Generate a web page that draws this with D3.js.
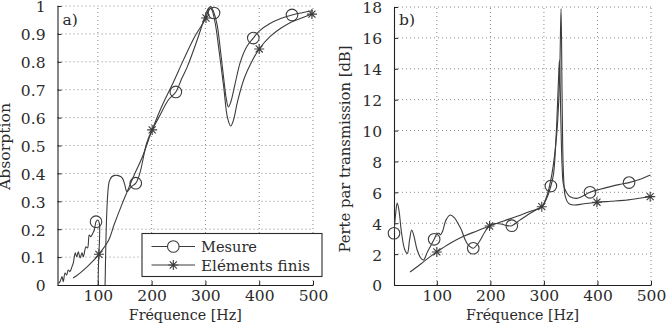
<!DOCTYPE html>
<html>
<head>
<meta charset="utf-8">
<script src="https://cdn.jsdelivr.net/npm/d3@7"></script>
<style>
  body { margin: 0; background: #fff; }
  svg { display: block; }
  text { font-family: "DejaVu Serif", serif; fill: #2b2b2b; }
</style>
</head>
<body>
<div id="chart"></div>
<script>
// ---- panel a) absorption ----
var freqMesA = [26.5, 29.7, 33.4, 35.8, 39, 42, 45, 48, 52, 54.4, 58, 60.7, 63.7, 66.9, 70.6, 73, 78, 81, 84, 87, 90.5, 93.5, 96.6, 99.8, 102.8, 104, 112.5, 113, 121, 126, 132, 138, 145, 150, 154, 162, 170.5, 178, 191, 201, 216, 231, 245, 256, 266, 285, 298, 305, 310, 316, 322, 328, 334, 339, 342.7, 347, 355, 365, 377, 389, 400, 420, 440, 461, 480, 500];
var absMesA = [0.006, 0.012, 0.03, 0.012, 0.043, 0.036, 0.054, 0.048, 0.066, 0.079, 0.115, 0.101, 0.119, 0.097, 0.115, 0.101, 0.137, 0.133, 0.179, 0.173, 0.185, 0.197, 0.227, 0.233, 0.222, -0.04, -0.04, -0.03, 0.37, 0.388, 0.393, 0.392, 0.385, 0.36, 0.335, 0.352, 0.365, 0.40, 0.51, 0.556, 0.61, 0.663, 0.692, 0.74, 0.781, 0.88, 0.955, 0.99, 0.998, 0.975, 0.93, 0.84, 0.74, 0.665, 0.638, 0.655, 0.72, 0.80, 0.855, 0.885, 0.91, 0.937, 0.955, 0.968, 0.976, 0.983];

var freqFeA = [54, 65, 80, 92, 102, 120, 130, 145, 154, 170, 182, 201, 220, 240, 259, 280, 301, 307, 311, 318, 326, 334, 341, 347, 352, 360, 372, 386, 400, 420, 440, 460, 480, 498];
var absFeA = [0.025, 0.04, 0.065, 0.088, 0.11, 0.16, 0.215, 0.29, 0.332, 0.405, 0.455, 0.556, 0.645, 0.725, 0.806, 0.89, 0.957, 0.993, 0.99, 0.94, 0.83, 0.71, 0.6, 0.57, 0.59, 0.66, 0.74, 0.8, 0.846, 0.89, 0.92, 0.943, 0.958, 0.971];

var circFreqA = [96.6, 170.5, 245, 316, 389, 461];
var circAbsA = [0.227, 0.365, 0.692, 0.975, 0.885, 0.968];
var starFreqA = [102, 201, 301, 400, 498];
var starAbsA = [0.11, 0.556, 0.957, 0.846, 0.971];

var xTicksA = [100, 200, 300, 400, 500];
var yTicksA = [0, 0.1, 0.2, 0.3, 0.4, 0.5, 0.6, 0.7, 0.8, 0.9, 1];

// ---- panel b) transmission loss ----
var freqMesB = [20, 23, 26, 29, 34, 40, 45, 49, 53, 57, 63, 70, 75, 82, 88, 95, 100, 104, 107, 111, 117, 125, 133, 140, 146, 152, 158.5, 168, 175, 181, 190, 199.5, 210, 220, 230, 240, 255, 270, 285, 296, 305, 313, 318, 323, 327, 329, 331.5, 334, 336.6, 343, 349, 361, 372, 386, 405, 424, 440, 459, 480, 499];
var tlMesB = [3.35, 4.6, 5.3, 4.9, 3.4, 2.3, 2.05, 2.9, 3.56, 3.2, 2.3, 1.75, 1.62, 2.1, 2.5, 2.96, 3.3, 3.35, 3.25, 3.5, 4.2, 4.53, 4.35, 3.95, 3.56, 3.0, 2.59, 2.38, 2.6, 2.9, 3.45, 3.89, 3.98, 3.95, 3.85, 3.84, 4.2, 4.55, 4.85, 5.07, 5.6, 6.41, 7.2, 9.8, 13.1, 14.57, 10.9, 7.66, 6.48, 5.94, 5.72, 5.61, 5.75, 6.0, 6.2, 6.37, 6.5, 6.63, 6.85, 7.12];

var freqFeB = [50, 62, 75, 87, 100, 125, 150, 175, 198, 225, 250, 275, 296, 305, 315, 324, 329, 332, 334, 336.5, 340, 346, 355, 375, 399, 425, 449, 475, 498.5];
var tlFeB = [0.84, 1.15, 1.5, 1.82, 2.14, 2.7, 3.15, 3.5, 3.82, 4.15, 4.45, 4.78, 5.07, 5.72, 7.2, 9.8, 13.06, 17.9, 12, 7.2, 5.72, 5.29, 5.18, 5.26, 5.36, 5.42, 5.48, 5.6, 5.72];

var circFreqB = [20, 95, 168, 240, 313, 386, 459];
var circTlB = [3.35, 2.96, 2.38, 3.84, 6.41, 6.0, 6.63];
var starFreqB = [100, 198.5, 296, 399, 498.5];
var starTlB = [2.14, 3.82, 5.07, 5.36, 5.72];

var xTicksB = [100, 200, 300, 400, 500];
var yTicksB = [0, 2, 4, 6, 8, 10, 12, 14, 16, 18];

var lineColor = "#3c3c3c";
var fontSize = "15.5px";

var svg = d3.select("#chart").append("svg")
  .attr("width", 667)
  .attr("height", 327);

function zip(xs, ys) {
  return xs.map(function (d, i) { return [d, ys[i]]; });
}

function drawStar(g, cx, cy, r) {
  var d = r * 0.7071;
  var p = "M" + (cx - r) + "," + cy + "H" + (cx + r) +
    "M" + cx + "," + (cy - r) + "V" + (cy + r) +
    "M" + (cx - d) + "," + (cy - d) + "L" + (cx + d) + "," + (cy + d) +
    "M" + (cx - d) + "," + (cy + d) + "L" + (cx + d) + "," + (cy - d);
  g.append("path").attr("d", p).attr("stroke", lineColor).attr("stroke-width", 1.1).attr("fill", "none");
}

function drawPanel(o) {
  var x = d3.scaleLinear().domain(o.xDomain).range(o.xRange);
  var y = d3.scaleLinear().domain(o.yDomain).range(o.yRange);
  var g = svg.append("g");

  // grid (dotted)
  g.append("g")
    .selectAll("line")
    .data(o.xTicks)
    .enter().append("line")
    .attr("x1", function (d) { return x(d); })
    .attr("x2", function (d) { return x(d); })
    .attr("y1", o.yRange[0]).attr("y2", o.yRange[1])
    .attr("stroke", "#8a8a8a").attr("stroke-width", 1)
    .attr("stroke-dasharray", "1,3");
  g.append("g")
    .selectAll("line")
    .data(o.yTicks.slice(1))
    .enter().append("line")
    .attr("y1", function (d) { return y(d); })
    .attr("y2", function (d) { return y(d); })
    .attr("x1", o.xRange[0]).attr("x2", o.xRange[1])
    .attr("stroke", "#8a8a8a").attr("stroke-width", 1)
    .attr("stroke-dasharray", "1,3");

  // axes
  var xAxis = g.append("g")
    .attr("transform", "translate(0," + o.yRange[0] + ")")
    .call(d3.axisBottom(x).tickValues(o.xTicks).tickFormat(String)
      .tickSizeInner(-4).tickSizeOuter(0).tickPadding(5));
  var yAxis = g.append("g")
    .attr("transform", "translate(" + o.xRange[0] + ",0)")
    .call(d3.axisLeft(y).tickValues(o.yTicks).tickFormat(String)
      .tickSizeInner(-4).tickSizeOuter(0).tickPadding(12));
  [xAxis, yAxis].forEach(function (a) {
    a.attr("font-family", null).attr("font-size", null);
    a.select(".domain").attr("stroke", "#222").attr("stroke-width", 1.1);
    a.selectAll(".tick line").attr("stroke", "#222");
    a.selectAll("text")
      .style("font-size", fontSize)
      .attr("fill", "#2b2b2b");
  });
  // top label sits a touch lower so it stays inside the page
  yAxis.selectAll(".tick text").attr("dy", "0.38em");

  // clip region
  var clipId = "clip" + o.name;
  svg.append("clipPath").attr("id", clipId)
    .append("rect")
    .attr("x", o.xRange[0]).attr("y", o.yRange[1])
    .attr("width", o.xRange[1] - o.xRange[0])
    .attr("height", o.yRange[0] - o.yRange[1]);

  var line = d3.line()
    .x(function (d) { return x(d[0]); })
    .y(function (d) { return y(d[1]); })
    .curve(d3.curveCatmullRom.alpha(0.5));

  var curves = g.append("g").attr("clip-path", "url(#" + clipId + ")");
  curves.append("path").datum(zip(o.mesX, o.mesY))
    .attr("d", line).attr("fill", "none")
    .attr("stroke", lineColor).attr("stroke-width", 1.1);
  curves.append("path").datum(zip(o.feX, o.feY))
    .attr("d", line).attr("fill", "none")
    .attr("stroke", lineColor).attr("stroke-width", 1.1);

  // markers
  g.append("g").selectAll("circle")
    .data(zip(o.circX, o.circY))
    .enter().append("circle")
    .attr("cx", function (d) { return x(d[0]); })
    .attr("cy", function (d) { return y(d[1]); })
    .attr("r", 5.8)
    .attr("fill", "none")
    .attr("stroke", lineColor).attr("stroke-width", 1.1);
  var sg = g.append("g");
  zip(o.starX, o.starY).forEach(function (d) {
    drawStar(sg, x(d[0]), y(d[1]), 5);
  });

  // labels
  g.append("text")
    .attr("x", (o.xRange[0] + o.xRange[1]) / 2)
    .attr("y", 319.5)
    .attr("text-anchor", "middle")
    .attr("textLength", 113).attr("lengthAdjust", "spacingAndGlyphs")
    .style("font-size", fontSize)
    .text("Fréquence [Hz]");
  g.append("text")
    .attr("transform", "translate(" + o.yLabelX + "," + o.yLabelY + ") rotate(-90)")
    .attr("text-anchor", "middle")
    .attr("textLength", o.yLabelLen).attr("lengthAdjust", "spacingAndGlyphs")
    .style("font-size", fontSize)
    .text(o.yLabel);
  g.append("text")
    .attr("x", o.xRange[0] + 5)
    .attr("y", 25)
    .style("font-size", fontSize)
    .text(o.tag);

  return g;
}

drawPanel({
  name: "a",
  xDomain: [25, 500], xRange: [57.5, 313],
  yDomain: [0, 1], yRange: [285, 6],
  xTicks: xTicksA, yTicks: yTicksA,
  mesX: freqMesA, mesY: absMesA, feX: freqFeA, feY: absFeA,
  circX: circFreqA, circY: circAbsA, starX: starFreqA, starY: starAbsA,
  yLabel: "Absorption", yLabelX: 10, yLabelY: 146.5, yLabelLen: 87, tag: "a)"
});

drawPanel({
  name: "b",
  xDomain: [20, 500], xRange: [394, 651],
  yDomain: [0, 18], yRange: [285, 7],
  xTicks: xTicksB, yTicks: yTicksB,
  mesX: freqMesB, mesY: tlMesB, feX: freqFeB, feY: tlFeB,
  circX: circFreqB, circY: circTlB, starX: starFreqB, starY: starTlB,
  yLabel: "Perte par transmission [dB]", yLabelX: 350, yLabelY: 149, yLabelLen: 207, tag: "b)"
});

// legend (panel a)
var legend = svg.append("g");
legend.append("rect")
  .attr("x", 142).attr("y", 233.5)
  .attr("width", 180).attr("height", 43)
  .attr("fill", "#fff")
  .attr("stroke", "#2b2b2b").attr("stroke-width", 1.1);
var legendItems = ["Mesure", "Eléments finis"];
var legendLens = [56, 109];
legendItems.forEach(function (name, i) {
  var ly = 246.5 + i * 18.5;
  legend.append("line")
    .attr("x1", 151.5).attr("x2", 195)
    .attr("y1", ly).attr("y2", ly)
    .attr("stroke", lineColor).attr("stroke-width", 1.1);
  if (i === 0) {
    legend.append("circle").attr("cx", 173.3).attr("cy", ly).attr("r", 5.8)
      .attr("fill", "#fff").attr("stroke", lineColor).attr("stroke-width", 1.1);
  } else {
    drawStar(legend, 173.3, ly, 5);
  }
  legend.append("text")
    .attr("x", 201).attr("y", ly + 5.5)
    .attr("textLength", legendLens[i]).attr("lengthAdjust", "spacingAndGlyphs")
    .style("font-size", fontSize)
    .text(name);
});
</script>
</body>
</html>
